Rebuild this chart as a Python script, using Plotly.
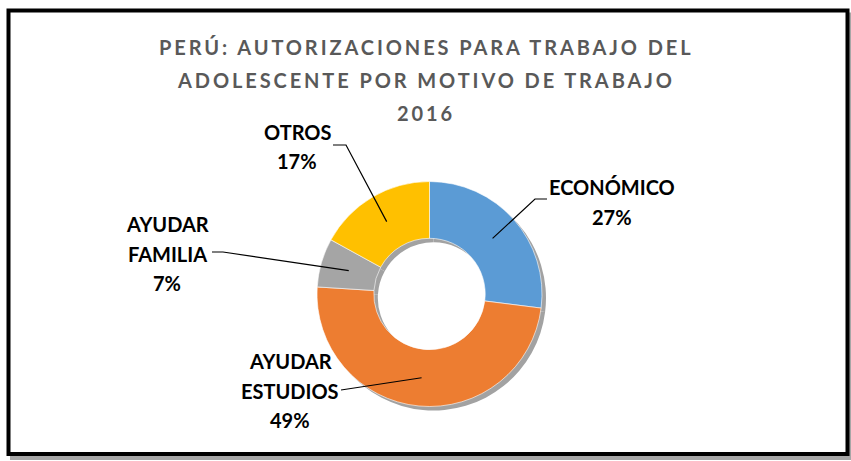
import math
import plotly.graph_objects as go

# ---------------- data ----------------
categories = ["ECONÓMICO", "AYUDAR ESTUDIOS", "AYUDAR FAMILIA", "OTROS"]
values = [27, 49, 7, 17]
colors = ["#5B9BD5", "#ED7D31", "#A5A5A5", "#FFC000"]
label_names = [["ECONÓMICO"], ["AYUDAR", "ESTUDIOS"], ["AYUDAR", "FAMILIA"], ["OTROS"]]
title_lines = ["PERÚ: AUTORIZACIONES PARA TRABAJO DEL",
               "ADOLESCENTE POR MOTIVO DE TRABAJO",
               "2016"]

# ---------------- layout constants (pixels) ----------------
W, H = 851, 461
CX, CY, R = 429.5, 294.0, 112.5
HOLE = 0.495
SHADOW_DX, SHADOW_DY = 4, 4

# label placement: (center x of text block, center y of first line, line step)
label_pos = [(612, 187, 29.5), (290, 361, 29.5), (167, 224, 29.5), (297, 132, 28.5)]
# leader start points (text side), optional elbow
leader_pts = [[(547, 199), (535, 199)],
              [(341, 390)],
              [(212, 252), (223, 252)],
              [(333, 145), (346, 145)]]


def px(x):
    return x / W


def py(y):
    return 1 - y / H


fig = go.Figure()

# shadow donut
fig.add_trace(go.Pie(
    values=values, labels=categories, sort=False, direction="clockwise", rotation=0,
    hole=HOLE, textinfo="none", hoverinfo="skip", showlegend=False,
    marker=dict(colors=["#A2A2A2"] * len(values), line=dict(width=0)),
    domain=dict(x=[px(CX - R + SHADOW_DX), px(CX + R + SHADOW_DX)],
                y=[py(CY + R + SHADOW_DY), py(CY - R + SHADOW_DY)]),
))
# main donut
fig.add_trace(go.Pie(
    values=values, labels=categories, sort=False, direction="clockwise", rotation=0,
    hole=HOLE, textinfo="none", hoverinfo="label+percent", showlegend=False,
    marker=dict(colors=colors, line=dict(color="white", width=0.6)),
    domain=dict(x=[px(CX - R), px(CX + R)], y=[py(CY + R), py(CY - R)]),
))

annotations = []
shapes = []

# frame with shadow
shapes.append(dict(type="rect", xref="paper", yref="paper", layer="below",
                   x0=px(12), x1=px(851.5), y0=py(458), y1=py(14.5),
                   line=dict(color="#A6A6A6", width=4), fillcolor="#A6A6A6"))
shapes.append(dict(type="rect", xref="paper", yref="paper", layer="below",
                   x0=px(8.5), x1=px(847.5), y0=py(454), y1=py(10.5),
                   line=dict(color="black", width=4), fillcolor="white"))

# title
title_y = [47, 80, 113]
for line, yy in zip(title_lines, title_y):
    annotations.append(dict(
        text=f"<span style='letter-spacing:2.9px'>{line}</span>",
        x=px(426), y=py(yy), xref="paper", yref="paper",
        xanchor="center", yanchor="middle", showarrow=False,
        font=dict(family="Lato", size=20, color="#595959", weight="bold")))

# labels + leader lines computed from the data
total = sum(values)
cum = 0.0
r_mid = R * (1 + HOLE) / 2
for i, v in enumerate(values):
    mid = (cum + v / 2) / total * 2 * math.pi
    cum += v
    ax = CX + r_mid * math.sin(mid)
    ay = CY - r_mid * math.cos(mid)
    lines = label_names[i] + [f"{round(v / total * 100)}%"]
    lx, ly, step = label_pos[i]
    for k, t in enumerate(lines):
        annotations.append(dict(
            text=t, x=px(lx), y=py(ly + k * step), xref="paper", yref="paper",
            xanchor="center", yanchor="middle", showarrow=False,
            font=dict(family="Lato", size=20, color="black", weight="bold")))
    pts = leader_pts[i] + [(ax, ay)]
    path = "M " + " L ".join(f"{px(x):.5f},{py(y):.5f}" for x, y in pts)
    shapes.append(dict(type="path", xref="paper", yref="paper", path=path,
                       line=dict(color="black", width=1.2)))

fig.update_layout(
    width=W, height=H, margin=dict(l=0, r=0, t=0, b=0),
    paper_bgcolor="white", plot_bgcolor="white",
    annotations=annotations, shapes=shapes,
)

fig.write_html("out.html", config={"displayModeBar": False},
               post_script="document.body.style.margin='0';document.body.style.padding='0';")
